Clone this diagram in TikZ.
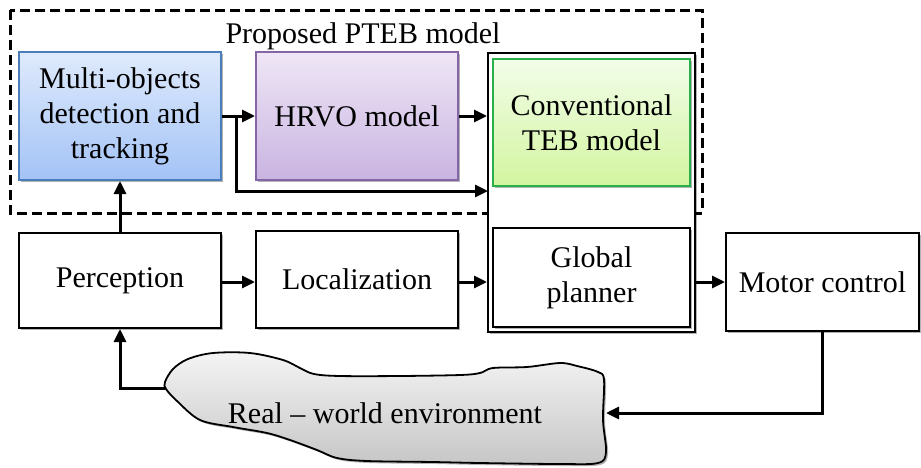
\documentclass[tikz,border=0pt]{standalone}
\usepackage{fontspec}
\setmainfont{Liberation Serif}
\usetikzlibrary{arrows.meta,shadows}
\begin{document}
\begin{tikzpicture}[x=0.5pt,y=-0.5pt,
  every node/.style={font=\fontsize{15}{17.5}\selectfont},
  blk/.style={draw=black, line width=1pt, fill=white, inner sep=0pt, align=center,
              drop shadow={shadow xshift=1pt, shadow yshift=-1pt, opacity=0.3, fill=black}},
  arr/.style={line width=1.5pt, -{Triangle[length=6.5pt,width=6pt]}},
  frame/.style={draw=black, line width=1.5pt, dash pattern=on 5pt off 2.5pt}
]
\useasboundingbox (0,0) rectangle (921,467);

% colours of the three shaded blocks
\definecolor{bluetop}{HTML}{DFEAFC}
\definecolor{bluebot}{HTML}{A3C3F6}
\definecolor{blueline}{HTML}{4A7EBB}
\definecolor{purtop}{HTML}{EFE6F6}
\definecolor{purbot}{HTML}{C9B4E1}
\definecolor{purline}{HTML}{8466A6}
\definecolor{grntop}{HTML}{F2FDE9}
\definecolor{grnbot}{HTML}{D3F5A0}
\definecolor{grnline}{HTML}{27B04A}
\definecolor{cloudtop}{HTML}{F4F4F4}
\definecolor{cloudbot}{HTML}{C6C6C6}

% dashed frame of the proposed model
\draw[frame] (10,10) rectangle (702,213);
\node[anchor=base] (title) at (363,43) {Proposed PTEB model};

% planner group holding the TEB block and the global planner
\node[blk, minimum width=103.5pt, minimum height=139.5pt] (outer) at (591.5,192.5) {};

\node[blk, draw=blueline, top color=bluetop, bottom color=bluebot,
      minimum width=101pt, minimum height=64pt] (multi) at (120,116)
      {Multi-objects\\detection and\\tracking};
\node[blk, draw=purline, top color=purtop, bottom color=purbot,
      minimum width=101pt, minimum height=64pt] (hrvo) at (357,116) {HRVO model};
\node[blk, draw=grnline, top color=grntop, bottom color=grnbot,
      minimum width=98.5pt, minimum height=63.5pt] (teb) at (591.5,122.5)
      {Conventional\\TEB model};
\node[blk, minimum width=98.5pt, minimum height=49.5pt] (glob) at (591.5,277.5)
      {Global\\planner};

\node[blk, minimum width=101pt, minimum height=47.5pt] (perc) at (120,280.5) {Perception};
\node[blk, minimum width=101pt, minimum height=48.5pt] (loc) at (357,279.5) {Localization};
\node[blk, minimum width=96.5pt, minimum height=49pt] (motor) at (822.5,282) {Motor control};

% environment cloud
\path[draw=black, line width=0.9pt, top color=cloudtop, bottom color=cloudbot,
      drop shadow={shadow xshift=1pt, shadow yshift=-1pt, opacity=0.3, fill=black}]
  plot[smooth cycle, tension=0.55] coordinates {
    (165,382) (173,369) (188,359) (213,353) (250,353) (283,360) (300,368) (314,374)
    (340,376) (400,376) (460,375) (480,373) (493,368) (527,367) (560,363) (577,366)
    (598,372) (604,380) (603,420) (606,452) (598,463) (560,464) (480,463) (433,462)
    (367,461) (337,458) (317,450) (290,440) (267,433) (233,427) (200,420) (177,401) (166,389)};
\node (env) at (385,413) {Real -- world environment};
\coordinate (envL) at (165,388);
\coordinate (envR) at (606,413);

% connectors
\coordinate (br) at (236,116);
\coordinate (tebin) at (488,191);
\draw[arr] (multi.east) -- (hrvo.west);
\draw[arr] (br) |- (tebin);
\draw[arr] (hrvo.east) -- (hrvo.east -| outer.west);
\draw[arr] (perc.north) -- (multi.south);
\draw[arr] (perc.east |- 0,282) -- (loc.west |- 0,282);
\draw[arr] (loc.east |- 0,282) -- (outer.west |- 0,282);
\draw[arr] (outer.east |- motor.west) -- (motor.west);
\draw[arr] (motor.south) |- (envR);
\draw[arr] (envL) -| (perc.south);
\end{tikzpicture}
\end{document}
